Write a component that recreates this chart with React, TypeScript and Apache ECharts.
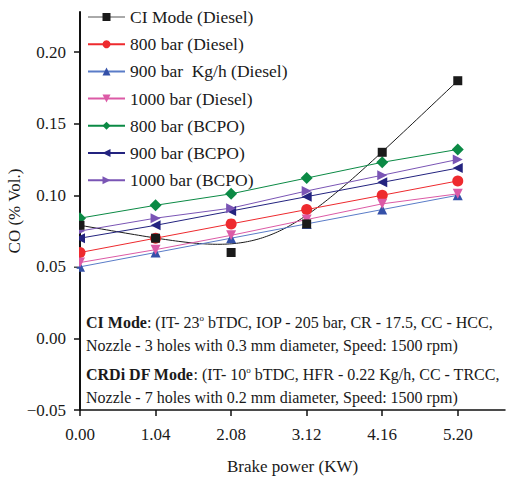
import React, { useEffect, useRef } from "react";
import * as echarts from "echarts";

// Brake power (KW) on the x axis
const brakePower = [0, 1.04, 2.08, 3.12, 4.16, 5.2];

// CO emissions (% Vol.)
const ciModeDiesel = [0.079, 0.07, 0.06, 0.08, 0.13, 0.18];
const bar800Diesel = [0.06, 0.07, 0.08, 0.09, 0.1, 0.11];
const bar900Diesel = [0.05, 0.06, 0.07, 0.08, 0.09, 0.1];
const bar1000Diesel = [0.053, 0.062, 0.072, 0.083, 0.094, 0.101];
const bar800Bcpo = [0.084, 0.093, 0.101, 0.112, 0.123, 0.132];
const bar900Bcpo = [0.07, 0.079, 0.089, 0.099, 0.109, 0.119];
const bar1000Bcpo = [0.075, 0.084, 0.091, 0.103, 0.114, 0.125];

const seriesNames = [
  "CI Mode (Diesel)",
  "800 bar (Diesel)",
  "900 bar  Kg/h (Diesel)",
  "1000 bar (Diesel)",
  "800 bar (BCPO)",
  "900 bar (BCPO)",
  "1000 bar (BCPO)",
];

const noteLines = [
  "{b|CI Mode}: (IT- 23{s|o} bTDC, IOP - 205 bar, CR - 17.5, CC - HCC,",
  "Nozzle - 3 holes with 0.3 mm diameter, Speed: 1500 rpm)",
  "{b|CRDi DF Mode}: (IT- 10{s|o} bTDC, HFR - 0.22 Kg/h, CC - TRCC,",
  "Nozzle - 7 holes with 0.2 mm diameter, Speed: 1500 rpm)",
];

const FONT = "Liberation Serif";

const pairs = (ys: number[]) => brakePower.map((x, i) => [x, ys[i]]);

// Clamped cubic B-spline through control points (pixel space)
function bspline(ctrl: number[][], samples: number): number[][] {
  const n = ctrl.length;
  const p = 3;
  const inner = n - p;
  const knots: number[] = [];
  for (let i = 0; i <= p; i++) knots.push(0);
  for (let i = 1; i < inner; i++) knots.push(i);
  for (let i = 0; i <= p; i++) knots.push(inner);
  const basis = (i: number, k: number, u: number): number => {
    if (k === 0) {
      if (u === inner) return i === n - 1 ? 1 : 0;
      return knots[i] <= u && u < knots[i + 1] ? 1 : 0;
    }
    let a = 0;
    let b = 0;
    const d1 = knots[i + k] - knots[i];
    const d2 = knots[i + k + 1] - knots[i + 1];
    if (d1 > 0) a = ((u - knots[i]) / d1) * basis(i, k - 1, u);
    if (d2 > 0) b = ((knots[i + k + 1] - u) / d2) * basis(i + 1, k - 1, u);
    return a + b;
  };
  const out: number[][] = [];
  for (let s = 0; s <= samples; s++) {
    const u = (s / samples) * inner;
    let x = 0;
    let y = 0;
    for (let i = 0; i < n; i++) {
      const w = basis(i, p, u);
      x += w * ctrl[i][0];
      y += w * ctrl[i][1];
    }
    out.push([x, y]);
  }
  return out;
}

export default function App() {
  const ref = useRef<HTMLDivElement>(null);

  useEffect(() => {
    if (!ref.current) return;
    const chart = echarts.init(ref.current, undefined, { renderer: "svg" });

    const lineSeries = (
      name: string,
      ys: number[],
      color: string,
      symbol: string,
      symbolSize: number,
      symbolRotate = 0,
      lineColor?: string
    ) => ({
      name,
      type: "line",
      data: pairs(ys),
      symbol,
      symbolSize,
      symbolRotate,
      itemStyle: { color },
      lineStyle: { color: lineColor || color, width: 1 },
      z: 3,
    });

    chart.setOption({
      animation: false,
      backgroundColor: "#ffffff",
      textStyle: { fontFamily: FONT },
      grid: {
        left: 80,
        right: 5,
        top: 12,
        bottom: 74,
        containLabel: false,
        outerBoundsMode: "none",
      },
      legend: {
        orient: "vertical",
        left: 87,
        top: 8,
        padding: 0,
        itemWidth: 37,
        itemHeight: 10,
        itemGap: 9.2,
        textStyle: { fontFamily: FONT, fontSize: 17.5, color: "#1a1a1a" },
        data: [
          { name: seriesNames[0], lineStyle: { opacity: 1, color: "#555555", width: 1 } },
          ...seriesNames.slice(1).map((n) => ({ name: n })),
        ],
      },
      xAxis: {
        type: "value",
        min: 0,
        max: 5.85,
        interval: 1.04,
        name: "Brake power (KW)",
        nameLocation: "middle",
        nameGap: 48,
        nameMoveOverlap: false,
        nameTextStyle: { fontFamily: FONT, fontSize: 17, color: "#1a1a1a" },
        axisLine: { onZero: false, lineStyle: { color: "#111111", width: 1.5 } },
        axisTick: { length: 6, lineStyle: { color: "#111111", width: 1.5 } },
        axisLabel: {
          fontFamily: FONT,
          fontSize: 17,
          color: "#1a1a1a",
          margin: 16,
          showMaxLabel: false,
          formatter: (v: number) => v.toFixed(2),
        },
        splitLine: { show: false },
      },
      yAxis: {
        type: "value",
        min: -0.05,
        max: 0.228,
        interval: 0.05,
        name: "CO (% Vol.)",
        nameLocation: "middle",
        nameGap: 57,
        nameMoveOverlap: false,
        nameTextStyle: { fontFamily: FONT, fontSize: 17, color: "#1a1a1a" },
        axisLine: { show: true, onZero: false, lineStyle: { color: "#111111", width: 2 } },
        axisTick: { show: true, length: 6, lineStyle: { color: "#111111", width: 1.5 } },
        axisLabel: {
          fontFamily: FONT,
          fontSize: 17,
          color: "#1a1a1a",
          margin: 14,
          showMaxLabel: false,
          formatter: (v: number) => (v < 0 ? "\u2212" + Math.abs(v).toFixed(2) : v.toFixed(2)),
        },
        splitLine: { show: false },
      },
      graphic: [
        ...noteLines.map((t, i) => ({
          type: "text",
          left: 86,
          top: [313, 337, 365, 389][i],
          z: 10,
          style: {
            text: t,
            fontFamily: FONT,
            fontSize: 16,
            fill: "#1a1a1a",
            rich: {
              b: { fontFamily: FONT, fontSize: 16, fontWeight: "bold", fill: "#1a1a1a" },
              s: { fontFamily: FONT, fontSize: 9, padding: [0, 0, 9, 0], fill: "#1a1a1a" },
            },
          },
        })),
        // markers sitting on the y axis are cut off at the plot edge
        {
          type: "rect",
          z: 20,
          silent: true,
          shape: { x: 73, y: 205, width: 6, height: 61.5 },
          style: { fill: "#ffffff" },
        },
        {
          type: "rect",
          z: 20,
          silent: true,
          shape: { x: 73, y: 268.8, width: 6, height: 5 },
          style: { fill: "#ffffff" },
        },
      ],
      series: [
        {
          name: seriesNames[0],
          type: "line",
          data: pairs(ciModeDiesel),
          symbol: "rect",
          symbolSize: 9,
          itemStyle: { color: "#1a1a1a" },
          lineStyle: { color: "#1a1a1a", width: 1, opacity: 0 },
          z: 4,
        },
        lineSeries(seriesNames[1], bar800Diesel, "#ee2a2e", "circle", 11),
        lineSeries(seriesNames[2], bar900Diesel, "#3450a8", "triangle", 10, 0, "#5a7cc8"),
        lineSeries(seriesNames[3], bar1000Diesel, "#dc5aa6", "triangle", 10, 180),
        lineSeries(seriesNames[4], bar800Bcpo, "#0b8a45", "diamond", 12),
        lineSeries(seriesNames[5], bar900Bcpo, "#23237f", "triangle", 10, 90),
        lineSeries(seriesNames[6], bar1000Bcpo, "#7a55b5", "triangle", 10, -90),
        {
          // smoothed B-spline trend for the CI mode points
          type: "custom",
          data: [[0, 0]],
          z: 2,
          silent: true,
          renderItem: (_params: any, api: any) => {
            const ctrl = pairs(ciModeDiesel).map((d) => api.coord(d));
            return {
              type: "polyline",
              shape: { points: bspline(ctrl, 120) },
              style: { stroke: "#1a1a1a", fill: "none", lineWidth: 1 },
            };
          },
        },
      ],
    });

    return () => chart.dispose();
  }, []);

  return (
    <div
      ref={ref}
      style={{ position: "absolute", left: 0, top: 0, width: 510, height: 484 }}
    />
  );
}
